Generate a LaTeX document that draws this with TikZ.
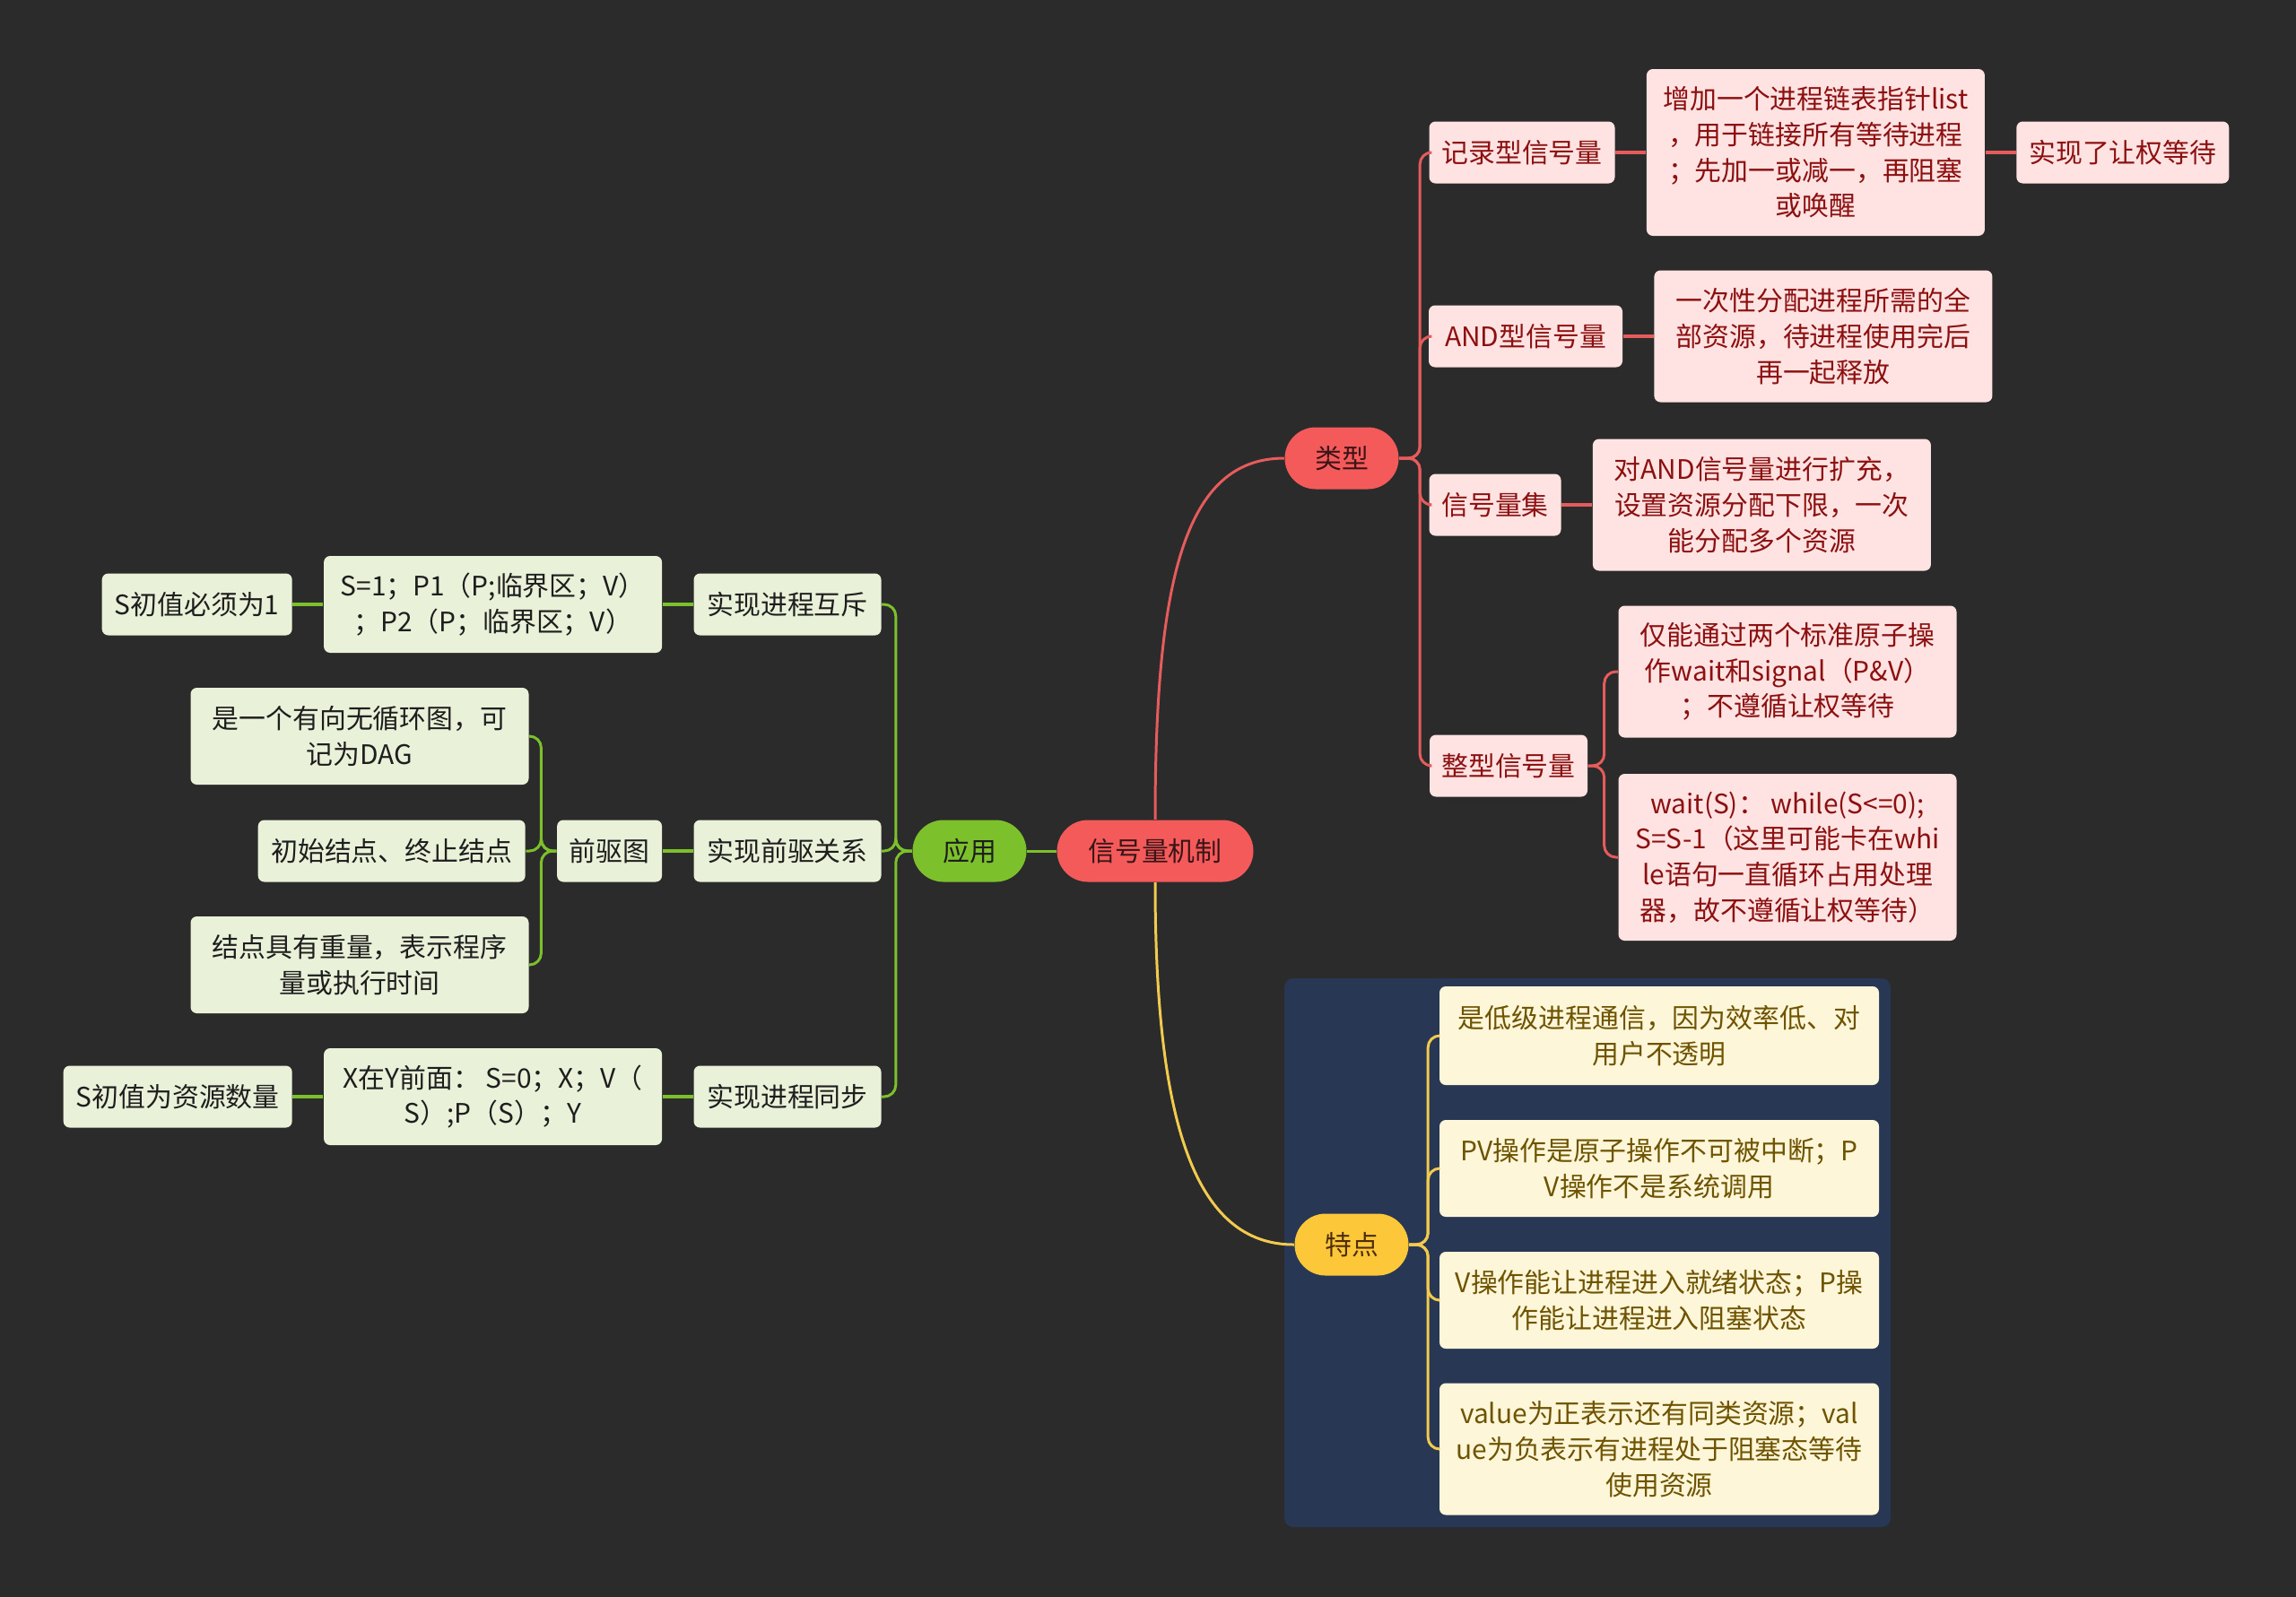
\documentclass[tikz,border=0pt]{standalone}
\usepackage{fontspec}
\newfontfamily\cjk{Noto Sans CJK SC}
\usepackage{tikz}
\usetikzlibrary{positioning}
\usepackage{xcolor}

\definecolor{bg}{HTML}{2B2B2B}
\definecolor{panel}{HTML}{283753}
\definecolor{rootred}{HTML}{F45A5A}
\definecolor{roottext}{HTML}{3A1518}
\definecolor{redline}{HTML}{E65B5B}
\definecolor{redfill}{HTML}{FFE2E2}
\definecolor{redtext}{HTML}{8C1010}
\definecolor{yelmain}{HTML}{FCC83A}
\definecolor{yelline}{HTML}{F2CB4E}
\definecolor{yelfill}{HTML}{FEF6D8}
\definecolor{yeltext}{HTML}{6E5300}
\definecolor{grnmain}{HTML}{7CC12C}
\definecolor{grnline}{HTML}{7CC12C}
\definecolor{grnfill}{HTML}{E9F2D9}
\definecolor{grntext}{HTML}{1E1E1E}

\begin{document}
\begin{tikzpicture}[
    every node/.style={font=\cjk\fontsize{8.5}{11.3}\selectfont},
    pill/.style={rounded corners=0.345cm, minimum height=0.69cm, minimum width=1.27cm, inner sep=0.1cm, align=center},
    box/.style={rounded corners=0.07cm, minimum height=0.69cm, inner xsep=0.1cm, inner ysep=0.1cm, align=center},
    redbox/.style={box, fill=redfill, text=redtext},
    yelbox/.style={box, fill=yelfill, text=yeltext, minimum width=4.90cm},
    grnbox/.style={box, fill=grnfill, text=grntext},
    wide/.style={minimum width=3.77cm},
    redlink/.style={draw=redline, line width=0.85pt},
    yellink/.style={draw=yelline, line width=0.85pt},
    grnlink/.style={draw=grnline, line width=0.85pt},
    stem/.style={line width=1.1pt},
    bus/.style={rounded corners=0.13cm}
]

% Background
\useasboundingbox (0,0) rectangle (25.6,-17.8);
\fill[bg] (-0.1,0.1) rectangle (25.7,-17.9);
\fill[panel, rounded corners=0.1cm] (14.32,-10.91) rectangle (21.08,-17.03);

% Main nodes
\node[pill, fill=rootred, text=roottext, minimum width=2.19cm] (root) at (12.88,-9.49) {信号量机制};
\node[pill, fill=rootred, text=roottext] (type) at (14.96,-5.11) {类型};
\node[pill, fill=yelmain, text=roottext!60!yeltext] (feat) at (15.07,-13.88) {特点};
\node[pill, fill=grnmain, text=grntext] (app) at (10.81,-9.49) {应用};

% Types
\node[redbox, minimum width=2.07cm] (rec) at (16.97,-1.70) {记录型信号量};
\node[redbox, wide, minimum height=1.86cm, right=0.34cm of rec] (recdesc) {增加一个进程链表指针list\\，用于链接所有等待进程\\；先加一或减一，再阻塞\\或唤醒};
\node[redbox, minimum width=2.37cm, right=0.34cm of recdesc] (recres) {实现了让权等待};
\node[redbox, minimum width=2.16cm] (and) at (17.01,-3.75) {AND型信号量};
\node[redbox, wide, minimum height=1.47cm, right=0.34cm of and] (anddesc) {一次性分配进程所需的全\\部资源，待进程使用完后\\再一起释放};
\node[redbox, minimum width=1.47cm] (set) at (16.67,-5.63) {信号量集};
\node[redbox, wide, minimum height=1.47cm, right=0.34cm of set] (setdesc) {对AND信号量进行扩充，\\设置资源分配下限，一次\\能分配多个资源};
\node[redbox, minimum width=1.76cm] (int) at (16.82,-8.54) {整型信号量};
\node[redbox, wide, minimum height=1.47cm] (intop) at (19.93,-7.49) {仅能通过两个标准原子操\\作wait和signal（P\&V）\\；不遵循让权等待};
\node[redbox, wide, minimum height=1.86cm] (intwait) at (19.93,-9.56) {wait(S)：\ while(S<=0);\\S=S-1（这里可能卡在whi\\le语句一直循环占用处理\\器，故不遵循让权等待）};

% Features
\node[yelbox, minimum height=1.10cm] (f1) at (18.50,-11.55) {是低级进程通信，因为效率低、对\\用户不透明};
\node[yelbox, minimum height=1.08cm] (f2) at (18.50,-13.03) {PV操作是原子操作不可被中断；P\\V操作不是系统调用};
\node[yelbox, minimum height=1.08cm] (f3) at (18.50,-14.50) {V操作能让进程进入就绪状态；P操\\作能让进程进入阻塞状态};
\node[yelbox, minimum height=1.47cm] (f4) at (18.50,-16.16) {value为正表示还有同类资源；val\\ue为负表示有进程处于阻塞态等待\\使用资源};

% Applications
\node[grnbox, minimum width=2.09cm] (mutex) at (8.78,-6.74) {实现进程互斥};
\node[grnbox, wide, minimum height=1.08cm, left=0.34cm of mutex] (mutexop) {S=1；P1（P;临界区；V）\\；P2（P；临界区；V）};
\node[grnbox, minimum width=2.12cm, left=0.34cm of mutexop] (mutexinit) {S初值必须为1};
\node[grnbox, minimum width=2.09cm] (prec) at (8.78,-9.49) {实现前驱关系};
\node[grnbox, minimum width=1.17cm, left=0.34cm of prec] (graph) {前驱图};
\node[grnbox, minimum width=2.98cm, left=0.34cm of graph] (gnode) {初始结点、终止结点};
\node[grnbox, wide, minimum height=1.08cm] (gdag) at (4.01,-8.21) {是一个有向无循环图，可\\记为DAG};
\node[grnbox, wide, minimum height=1.08cm] (gweight) at (4.01,-10.76) {结点具有重量，表示程序\\量或执行时间};
\node[grnbox, minimum width=2.09cm] (sync) at (8.78,-12.23) {实现进程同步};
\node[grnbox, wide, minimum height=1.08cm, left=0.34cm of sync] (syncop) {X在Y前面：\ S=0；X；V（\\S）;P（S）；Y};
\node[grnbox, minimum width=2.55cm, left=0.34cm of syncop] (syncinit) {S初值为资源数量};

% Links
\draw[redlink] (root.north) .. controls +(0,2.7) and +(-1.1,0) .. (type.west);
\draw[yellink] (root.south) .. controls +(0,-2.7) and +(-1.1,0) .. (feat.west);
\draw[grnlink] (root.west) -- (app.east);

\foreach \c in {rec,and,set,int}
    \draw[redlink, bus] (type.east) -- ++(0.23,0) |- (\c.west);
\foreach \c in {intop,intwait}
    \draw[redlink, bus] (int.east) -- ++(0.18,0) |- (\c.west);
\foreach \c in {f1,f2,f3,f4}
    \draw[yellink, bus] (feat.east) -- ++(0.21,0) |- (\c.west);
\foreach \c in {mutex,prec,sync}
    \draw[grnlink, bus] (app.west) -- ++(-0.18,0) |- (\c.east);
\foreach \c in {gdag,gnode,gweight}
    \draw[grnlink, bus] (graph.west) -- ++(-0.17,0) |- (\c.east);

\draw[redlink, stem] (rec) -- (recdesc);
\draw[redlink, stem] (recdesc) -- (recres);
\draw[redlink, stem] (and) -- (anddesc);
\draw[redlink, stem] (set) -- (setdesc);
\draw[grnlink, stem] (mutex) -- (mutexop);
\draw[grnlink, stem] (mutexop) -- (mutexinit);
\draw[grnlink, stem] (prec) -- (graph);
\draw[grnlink, stem] (sync) -- (syncop);
\draw[grnlink, stem] (syncop) -- (syncinit);

\end{tikzpicture}
\end{document}
